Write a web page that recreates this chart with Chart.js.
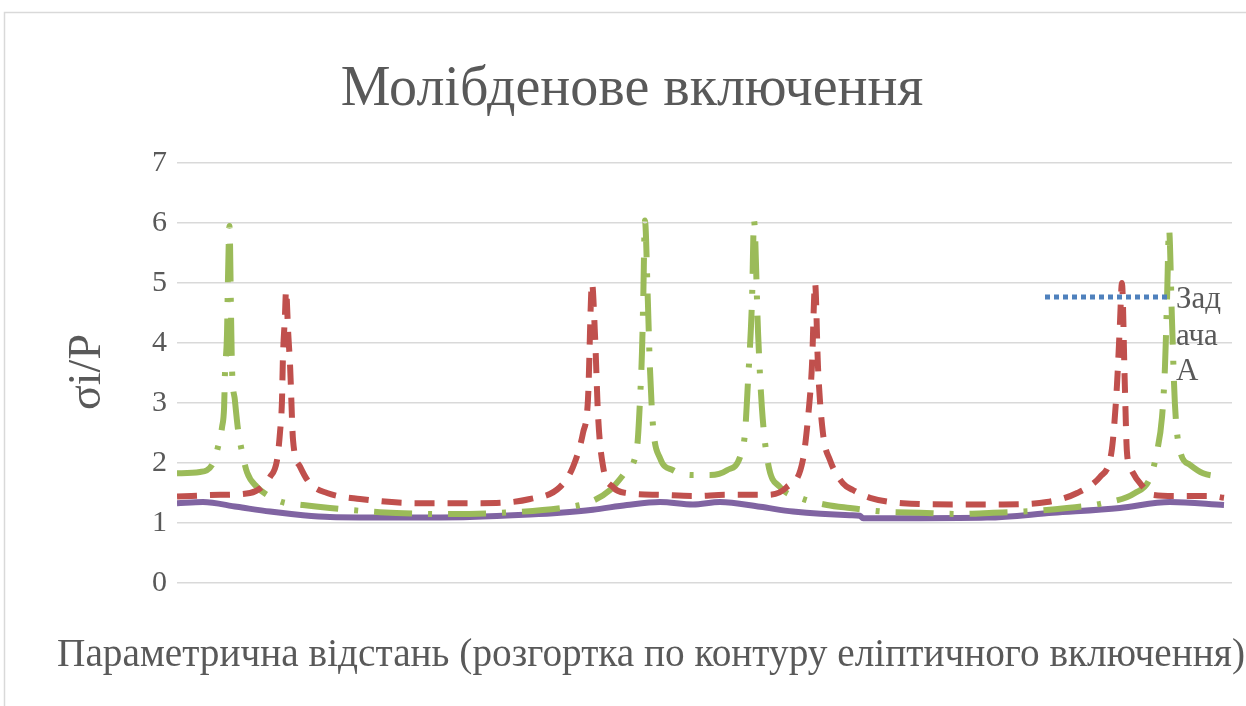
<!DOCTYPE html>
<html>
<head>
<meta charset="utf-8">
<script src="https://cdn.jsdelivr.net/npm/chart.js@4.4.1/dist/chart.umd.min.js"></script>
<style>
  html, body { margin: 0; padding: 0; background: #fff; }
  #wrap { width: 1246px; height: 706px; }
</style>
</head>
<body>
<div id="wrap"><canvas id="moChart" width="1246" height="706"></canvas></div>
<script>
// Texts
const chartTitle = 'Молібденове включення';
const yTitle = 'σі/P';
const xTitle = 'Параметрична відстань (розгортка по контуру еліптичного включення)';
const legendLines = ['Зад', 'ача', 'А'];
const yTicks = [0, 1, 2, 3, 4, 5, 6, 7];

// Series values (parametric position in degrees, stress ratio)
const blueX = [];
const blueY = [];

const redX = [0, 14.8, 25.1, 32.0, 34.4, 35.4, 36.1, 36.4, 37.1, 37.5, 38.2, 38.9, 39.9, 42.3, 45.7, 51.6,
  62.9, 83.6, 104.2, 121.4, 131.7, 136.2, 139.6, 141.3, 142.7, 143.7, 144.8, 146.5, 149.9, 154.7,
  166.1, 177.4, 189.1, 202.9, 209.7, 215.2, 217.0, 218.3, 219.4, 220.4, 222.1, 224.5, 229.0, 232.4,
  238.3, 249.6, 266.8, 284.0, 299.1, 309.5, 317.4, 320.8, 321.8, 323.2, 324.2, 324.9, 325.9, 326.6,
  327.7, 332.2, 335.6, 343.8, 355.2, 360];
const redY = [1.44, 1.47, 1.5, 1.77, 2.05, 2.5, 3.05, 3.72, 4.43, 4.88, 4.2, 3.6, 2.38, 1.94, 1.66, 1.5,
  1.4, 1.33, 1.33, 1.4, 1.6, 1.94, 2.5, 3.05, 5.0, 4.16, 2.77, 1.94, 1.6, 1.5,
  1.47, 1.45, 1.47, 1.47, 1.6, 2.05, 2.77, 3.6, 5.0, 3.6, 2.5, 2.05, 1.66, 1.55,
  1.42, 1.33, 1.31, 1.31, 1.35, 1.5, 1.77, 2.05, 2.38, 3.3, 4.3, 5.0, 3.3, 2.2,
  1.94, 1.6, 1.47, 1.45, 1.45, 1.42];

const greenX = [0, 7.9, 12.4, 14.1, 15.5, 16.2, 16.5, 17.2, 17.5, 18.05, 18.6, 18.9, 19.9, 21.0, 22.3, 24.1,
  27.5, 30.9, 36.1, 43.3, 52.6, 69.8, 90.4, 111.1, 135.1, 142.0, 148.9, 154.7, 158.2, 159.2, 159.9,
  160.3, 160.9, 161.9, 162.6, 163.7, 166.1, 170.5, 177.4, 183.3, 189.1, 193.6, 195.3, 196.3, 197.7,
  198.4, 199.8, 201.1, 203.2, 207.3, 214.2, 223.5, 231.4, 242.8, 255.5, 269.2, 280.6, 294.3, 306.0,
  318.4, 329.4, 334.6, 337.0, 338.7, 339.7, 340.4, 341.1, 342.1, 343.1, 344.9, 348.3, 352.8, 360];
const greenY = [1.83, 1.85, 2.0, 2.27, 2.6, 2.93, 3.5, 4.16, 5.0, 5.95, 4.4, 3.6, 3.05, 2.55, 2.2, 1.84,
  1.6, 1.47, 1.35, 1.3, 1.25, 1.18, 1.15, 1.17, 1.27, 1.35, 1.55, 1.88, 2.27, 3.05, 3.88,
  4.7, 6.04, 4.7, 3.6, 2.6, 2.08, 1.88, 1.8, 1.8, 1.88, 2.1, 2.5, 3.33, 4.7,
  6.04, 4.16, 2.93, 2.0, 1.6, 1.42, 1.3, 1.25, 1.19, 1.17, 1.15, 1.17, 1.2, 1.25,
  1.33, 1.5, 1.75, 2.2, 2.77, 3.6, 4.7, 5.9, 4.4, 3.0, 2.2, 1.97, 1.83, 1.77];

const purpleX = [0, 8.9, 20.6, 32.0, 43.3, 52.6, 76.7, 100.7, 121.4, 131.7, 143.0, 154.7, 166.1, 177.4,
  186.7, 200.5, 211.8, 231.4, 234.8, 235.9, 255.5, 278.5, 301.2, 324.2, 341.4, 360];
const purpleY = [1.33, 1.35, 1.27, 1.19, 1.13, 1.1, 1.09, 1.1, 1.14, 1.17, 1.22, 1.3, 1.35, 1.31,
  1.35, 1.27, 1.19, 1.13, 1.12, 1.08, 1.08, 1.09, 1.17, 1.25, 1.35, 1.3];

const pairs = (xs, ys) => xs.map((x, i) => ({ x: x, y: ys[i] }));

const textColor = '#595959';
const serif = "'Liberation Serif', 'Times New Roman', serif";

// Frame, titles and the legend drawn on the canvas
const decorations = {
  id: 'decorations',
  beforeDraw(chart) {
    const ctx = chart.ctx;
    ctx.save();
    ctx.strokeStyle = '#D9D9D9';
    ctx.lineWidth = 1.5;
    ctx.beginPath();
    ctx.moveTo(4.5, 706);
    ctx.lineTo(4.5, 12.5);
    ctx.lineTo(1246, 12.5);
    ctx.stroke();
    ctx.restore();
  },
  afterDraw(chart) {
    const ctx = chart.ctx;
    ctx.save();
    ctx.fillStyle = textColor;

    ctx.font = '56px ' + serif;
    ctx.textAlign = 'center';
    ctx.textBaseline = 'alphabetic';
    ctx.fillText(chartTitle, 632, 105);

    ctx.font = '40px ' + serif;
    ctx.textBaseline = 'middle';
    ctx.fillText(xTitle, 651, 655, 1188);

    ctx.save();
    ctx.translate(88, 372);
    ctx.rotate(-Math.PI / 2);
    ctx.font = '46px ' + serif;
    ctx.fillText(yTitle, 0, 0);
    ctx.restore();

    // legend entry for the first series
    const ds = chart.data.datasets[0];
    ctx.strokeStyle = ds.borderColor;
    ctx.lineWidth = 5;
    ctx.setLineDash(ds.borderDash);
    ctx.beginPath();
    ctx.moveTo(1045, 297);
    ctx.lineTo(1168, 297);
    ctx.stroke();
    ctx.setLineDash([]);

    ctx.font = '31px ' + serif;
    ctx.textAlign = 'left';
    const lineY = [300, 337, 372];
    legendLines.forEach((t, i) => ctx.fillText(t, 1176, lineY[i]));
    ctx.restore();
  }
};

const ctx = document.getElementById('moChart').getContext('2d');

new Chart(ctx, {
  type: 'line',
  data: {
    datasets: [
      {
        label: 'Задача А',
        data: pairs(blueX, blueY),
        borderColor: '#4F81BD',
        borderWidth: 5,
        borderDash: [5, 4],
      },
      {
        label: 'red',
        data: pairs(redX, redY),
        borderColor: '#C0504D',
        borderWidth: 6,
        borderDash: [20, 13],
      },
      {
        label: 'green',
        data: pairs(greenX, greenY),
        borderColor: '#9BBB59',
        borderWidth: 6,
        borderDash: [38, 16, 4, 16],
      },
      {
        label: 'purple',
        data: pairs(purpleX, purpleY),
        borderColor: '#8064A2',
        borderWidth: 6,
      }
    ]
  },
  options: {
    responsive: false,
    animation: false,
    elements: {
      point: { radius: 0 },
      line: { cubicInterpolationMode: 'monotone', borderCapStyle: 'butt' }
    },
    layout: {
      padding: { left: 0, right: 14, top: 163, bottom: 123 }
    },
    scales: {
      x: {
        type: 'linear',
        display: false,
        min: 0,
        max: 362.75
      },
      y: {
        min: 0,
        max: 7,
        afterBuildTicks(scale) {
          scale.ticks = yTicks.map(v => ({ value: v }));
        },
        afterFit(scale) {
          scale.width = 177;
        },
        border: { display: false },
        grid: {
          color: '#D9D9D9',
          lineWidth: 1.5,
          drawTicks: false
        },
        ticks: {
          color: textColor,
          padding: 10,
          font: { family: serif, size: 30 }
        }
      }
    },
    plugins: {
      legend: { display: false },
      tooltip: { enabled: false }
    }
  },
  plugins: [decorations]
});
</script>
</body>
</html>
